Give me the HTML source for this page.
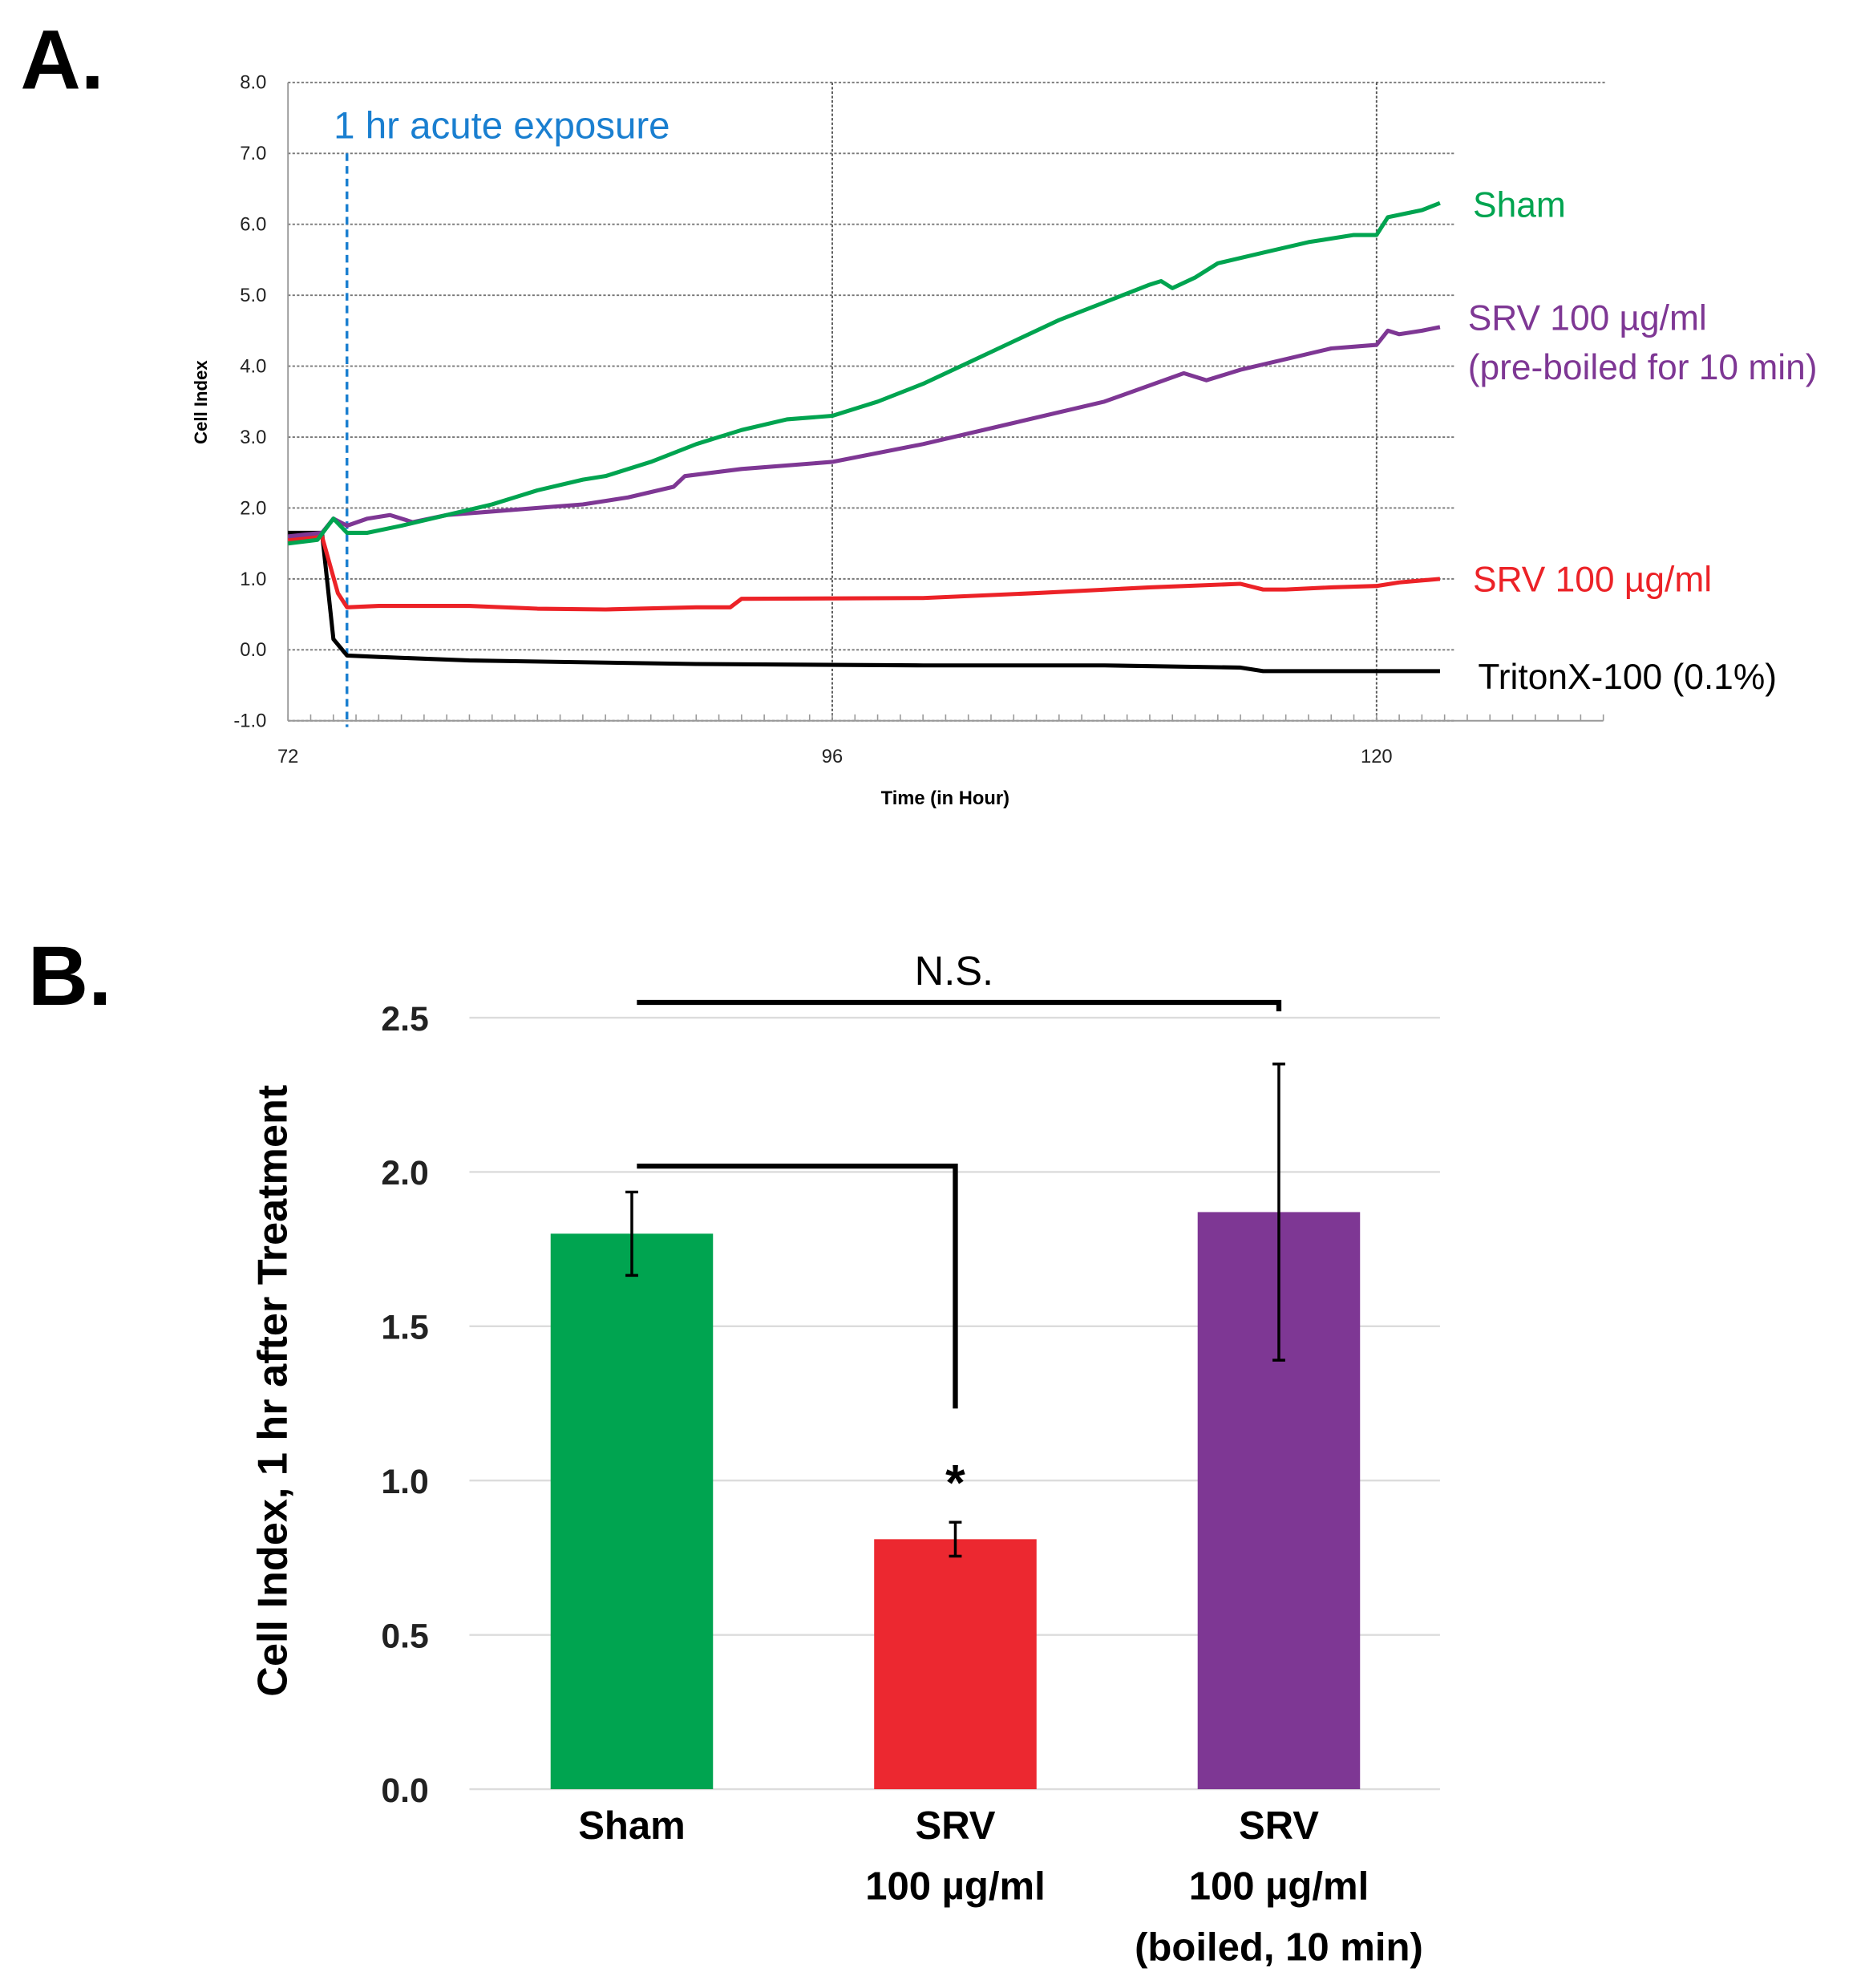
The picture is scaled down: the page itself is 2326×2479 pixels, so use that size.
<!DOCTYPE html>
<html><head><meta charset="utf-8"><style>
html,body{margin:0;padding:0;background:#fff}
svg{display:block}
text{font-family:"Liberation Sans",sans-serif}
</style></head><body>
<svg id="fig" width="2326" height="2479" viewBox="0 0 1470 1566.7" preserveAspectRatio="none" xmlns="http://www.w3.org/2000/svg">
<text x="16" y="70" font-size="66" font-weight="bold">A.</text>
<text x="22" y="792" font-size="66" font-weight="bold">B.</text>
<g id="chartA"></g>
<g id="chartB"></g>
</svg>
<script>
// ---- Chart A data ----
const xTicksA = [72, 96, 120];
const yTicksA = [-1, 0, 1, 2, 3, 4, 5, 6, 7, 8];
const shamT = [72,73.3,74,74.6,75.5,77,79,81,83,85,86,88,90,92,94,96,98,100,102,104,106,108,110,110.5,111,112,113,115,117,119,120,120.5,122,122.8];
const shamV = [1.5,1.55,1.85,1.65,1.65,1.75,1.9,2.05,2.25,2.4,2.45,2.65,2.9,3.1,3.25,3.3,3.5,3.75,4.05,4.35,4.65,4.9,5.15,5.2,5.1,5.25,5.45,5.6,5.75,5.85,5.85,6.1,6.2,6.3];
const boiledT = [72,73.5,74,74.6,75.5,76.5,77.5,79,81,83,85,87,89,89.5,92,96,100,104,108,111.5,112.5,114,116,118,120,120.5,121,122,122.8];
const boiledV = [1.6,1.65,1.85,1.75,1.85,1.9,1.8,1.9,1.95,2.0,2.05,2.15,2.3,2.45,2.55,2.65,2.9,3.2,3.5,3.9,3.8,3.95,4.1,4.25,4.3,4.5,4.45,4.5,4.55];
const srvT = [72,73.5,74.2,74.6,76,80,83,86,90,91.5,92,100,105,110,114,115,116,118,120,121,122.8];
const srvV = [1.55,1.6,0.8,0.6,0.62,0.62,0.58,0.57,0.6,0.6,0.72,0.73,0.8,0.88,0.93,0.85,0.85,0.88,0.9,0.95,1.0];
const tritonT = [72,73.5,74,74.6,76,80,90,100,108,114,115,122.8];
const tritonV = [1.65,1.65,0.15,-0.08,-0.1,-0.15,-0.2,-0.22,-0.22,-0.25,-0.3,-0.3];
const exposureT = 74.6;

// ---- Chart B data ----
const barCats = ["Sham","SRV 100 µg/ml","SRV 100 µg/ml (boiled)"];
const barVals = [1.80, 0.81, 1.87];
const barErr = [0.135, 0.055, 0.48];
const yTicksB = [0.0, 0.5, 1.0, 1.5, 2.0, 2.5];

const NS = "http://www.w3.org/2000/svg";
function mk(parent, tag, attrs, txt){
  const e = document.createElementNS(NS, tag);
  for (const k in attrs) e.setAttribute(k, attrs[k]);
  if (txt !== undefined) e.textContent = txt;
  parent.appendChild(e); return e;
}

const A = document.getElementById('chartA');
const xA = t => 227 + (t - 72) * (429 / 24);
const yA = v => 568 - (v + 1) * (503 / 9);
yTicksA.forEach(v => {
  const g = mk(A, 'line', {x1: 227, x2: v === 8 ? 1265 : 1146, y1: yA(v), y2: yA(v), stroke: '#777', 'stroke-width': 1.2, 'stroke-dasharray': '2,1.5'});
  
  
  const t = mk(A, 'text', {x: 210, y: yA(v) + 5, 'font-size': 15, 'text-anchor': 'end', fill: '#222'}, v.toFixed(1));
  
  
});
xTicksA.forEach(v => {
  if (v !== 72) {
    const g = mk(A, 'line', {x1: xA(v), x2: xA(v), y1: yA(8), y2: yA(-1), stroke: '#555', 'stroke-width': 1.2, 'stroke-dasharray': '2,1.5'});
    
    
  }
  const t = mk(A, 'text', {x: xA(v), y: 601, 'font-size': 15, 'text-anchor': 'middle', fill: '#222'}, String(v));
  
  
});
for (let h = 72; h <= 130; h++) {
  const tk = mk(A, 'line', {x1: xA(h), x2: xA(h), y1: yA(-1) - 5, y2: yA(-1), stroke: '#999', 'stroke-width': 1});
  
  
}
const ax1 = mk(A, 'line', {x1: 227, x2: 227, y1: yA(8), y2: yA(-1), stroke: '#999', 'stroke-width': 1.2});


const ax2 = mk(A, 'line', {x1: 227, x2: xA(130), y1: yA(-1), y2: yA(-1), stroke: '#999', 'stroke-width': 1.2});


const yt = mk(A, 'text', {x: 0, y: 0, 'font-size': 14, 'font-weight': 'bold', 'text-anchor': 'middle', transform: 'translate(163,317) rotate(-90)'}, 'Cell Index');


const xt = mk(A, 'text', {x: 745, y: 634, 'font-size': 15, 'font-weight': 'bold', 'text-anchor': 'middle'}, 'Time (in Hour)');



const dash = mk(A, 'line', {x1: xA(exposureT), x2: xA(exposureT), y1: yA(7), y2: yA(-1) + 5, stroke: '#1a7fd0', 'stroke-width': 2.2, 'stroke-dasharray': '6,4'});


const et = mk(A, 'text', {x: 263, y: 109, 'font-size': 30, fill: '#1a7fd0'}, '1 hr acute exposure');



function series(T, V, color, name) {
  const d = T.map((t, i) => (i ? 'L' : 'M') + xA(t).toFixed(1) + ',' + yA(V[i]).toFixed(1)).join(' ');
  const p = mk(A, 'path', {d: d, fill: 'none', stroke: color, 'stroke-width': 3.2, 'stroke-linejoin': 'round'});
  
  
}
series(tritonT, tritonV, '#000', 'series-tritonx');
series(srvT, srvV, '#ec2227', 'series-srv');
series(boiledT, boiledV, '#7e3794', 'series-srv-boiled');
series(shamT, shamV, '#00a450', 'series-sham');

function lbl(x, y, s, c, name) {
  const t = mk(A, 'text', {x: x, y: y, 'font-size': 28, fill: c}, s);
  
  
}
lbl(1161, 171, 'Sham', '#00a450', 'label-sham');
lbl(1157, 260, 'SRV 100 µg/ml', '#7e3794', 'label-srv-boiled');
lbl(1157, 299, '(pre-boiled for 10 min)', '#7e3794', 'label-srv-boiled-2');
lbl(1161, 466, 'SRV 100 µg/ml', '#ec2227', 'label-srv');
lbl(1165, 543, 'TritonX-100 (0.1%)', '#000', 'label-tritonx');

const B = document.getElementById('chartB');
const yB = v => 1410 - v * (608 / 2.5);
const centers = [498, 753, 1008];
const colors = ['#00a450', '#ec2830', '#7e3794'];
yTicksB.forEach(v => {
  const g = mk(B, 'line', {x1: 370, x2: 1135, y1: yB(v), y2: yB(v), stroke: '#dcdcdc', 'stroke-width': 1.5});
  
  
  const t = mk(B, 'text', {x: 338, y: yB(v) + 10, 'font-size': 27, 'font-weight': 'bold', 'text-anchor': 'end', fill: '#222'}, v.toFixed(1));
  
  
});
barVals.forEach((v, i) => {
  const r = mk(B, 'rect', {x: centers[i] - 64, y: yB(v), width: 128, height: yB(0) - yB(v), fill: colors[i]});
  
  
  const hi = yB(v + barErr[i]), lo = yB(v - barErr[i]);
  const e = mk(B, 'path', {d: `M${centers[i]},${hi} V${lo} M${centers[i]-5},${hi} H${centers[i]+5} M${centers[i]-5},${lo} H${centers[i]+5}`, stroke: '#000', 'stroke-width': 2.2, fill: 'none'});
  
  
});
const catLines = [['Sham'], ['SRV', '100 µg/ml'], ['SRV', '100 µg/ml', '(boiled, 10 min)']];
catLines.forEach((ls, i) => ls.forEach((s, j) => {
  const t = mk(B, 'text', {x: centers[i], y: 1449 + j * 48, 'font-size': 31, 'font-weight': 'bold', 'text-anchor': 'middle'}, s);
  
  
}));
const ylb = mk(B, 'text', {x: 0, y: 0, 'font-size': 33, 'font-weight': 'bold', 'text-anchor': 'middle', transform: 'translate(226,1096) rotate(-90)'}, 'Cell Index, 1 hr after Treatment');


const b1 = mk(B, 'path', {d: 'M502,790 H1008 V797', stroke: '#000', 'stroke-width': 4, fill: 'none'});


const nst = mk(B, 'text', {x: 752, y: 776, 'font-size': 32, 'text-anchor': 'middle'}, 'N.S.');


const b2 = mk(B, 'path', {d: 'M502,919 H753 V1110', stroke: '#000', 'stroke-width': 4, fill: 'none'});


const st = mk(B, 'text', {x: 753, y: 1182, 'font-size': 40, 'font-weight': 'bold', 'text-anchor': 'middle'}, '*');


</script>
</body></html>
